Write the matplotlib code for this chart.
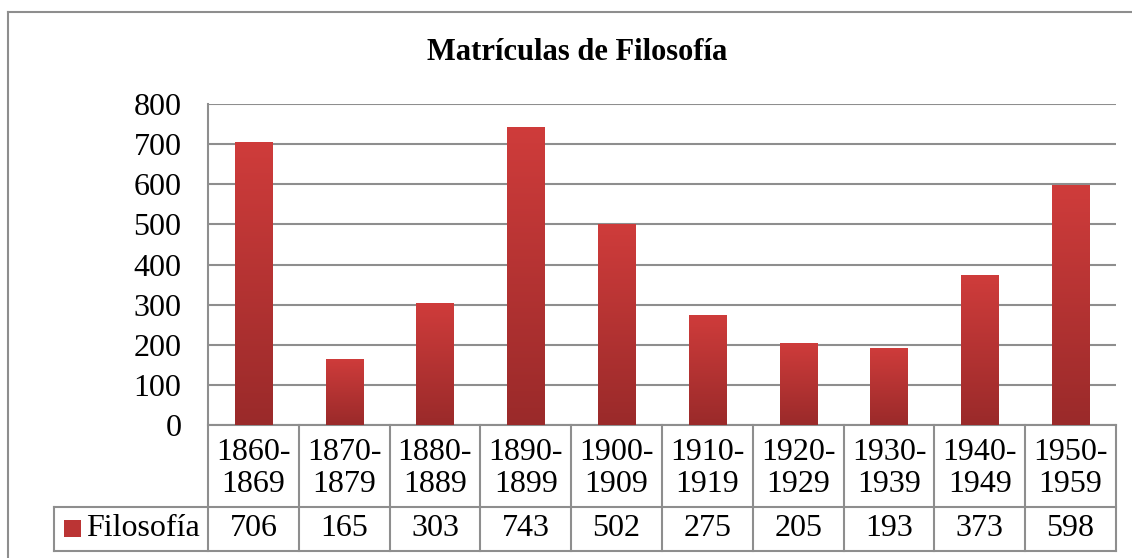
import numpy as np
import matplotlib.pyplot as plt
from matplotlib.colors import LinearSegmentedColormap
from matplotlib.lines import Line2D

decades_top = ["1860-", "1870-", "1880-", "1890-", "1900-", "1910-", "1920-", "1930-", "1940-", "1950-"]
decades_bot = ["1869", "1879", "1889", "1899", "1909", "1919", "1929", "1939", "1949", "1959"]
values = [706, 165, 303, 743, 502, 275, 205, 193, 373, 598]
series_name = "Filosofía"
title = "Matrículas de Filosofía"

plt.rcParams['font.family'] = ['Liberation Serif', 'DejaVu Serif']

W, H = 1132, 558
fig = plt.figure(figsize=(W / 100, H / 100), dpi=100)

def fx(px):
    return px / W

def fy(py):
    return 1 - py / H

grey = "#8e8e8e"

# outer chart frame (only left and top visible)
fig.add_artist(Line2D([fx(8), fx(8)], [fy(12), fy(560)], color=grey, lw=1.5))
fig.add_artist(Line2D([fx(8), fx(1134)], [fy(12), fy(12)], color=grey, lw=1.5))

left, right, top, bottom = 208, 1116, 104, 425
ax = fig.add_axes([fx(left), fy(bottom), fx(right - left), fy(top) - fy(bottom)])
for s in ax.spines.values():
    s.set_visible(False)
ax.set_xticks([])
ax.set_yticks(range(0, 801, 100))
ax.tick_params(axis='y', length=0, pad=19, labelsize=23)
ax.yaxis.grid(True, color=grey, lw=1.5)
ax.set_axisbelow(True)

cmap = LinearSegmentedColormap.from_list("red", ["#9a2a2a", "#cf3c3b"])
grad = np.linspace(0, 1, 256).reshape(-1, 1)
x = np.arange(len(values))
bw = 0.41
bars = ax.bar(x, values, width=bw, color="none", zorder=3)
for b in bars:
    x0, y0 = b.get_x(), b.get_y()
    im = ax.imshow(grad, cmap=cmap, origin="lower", aspect="auto", zorder=3,
                   extent=[x0, x0 + b.get_width(), y0, y0 + b.get_height()])
    im.set_clip_path(b)
ax.set_xlim(-0.5, len(values) - 0.5)
ax.set_ylim(0, 800)

# data table below the axis
tr = ax.get_xaxis_transform()
axh = bottom - top
def ay(py):
    return -(py - bottom) / axh

y_hdr = ay(507)
y_val = ay(551)
x_leg = -0.5 - (left - 54) / ((right - left) / len(values))

kw = dict(color=grey, lw=1.5, transform=tr, clip_on=False)
ax.plot([-0.5, -0.5], [1, y_val], **kw)
ax.plot([-0.5, len(values) - 0.5], [0, 0], **kw)
ax.plot([x_leg, len(values) - 0.5], [y_hdr, y_hdr], **kw)
ax.plot([x_leg, len(values) - 0.5], [y_val, y_val], **kw)
ax.plot([x_leg, x_leg], [y_hdr, y_val], **kw)
for i in range(len(values)):
    ax.plot([i + 0.5, i + 0.5], [0, y_val], **kw)

fs = 23
for i in range(len(values)):
    ax.text(i, ay(453), decades_top[i], transform=tr, ha="center", va="center", fontsize=fs)
    ax.text(i, ay(484), decades_bot[i], transform=tr, ha="center", va="center", fontsize=fs)
    ax.text(i, ay(528), str(values[i]), transform=tr, ha="center", va="center", fontsize=fs)

# legend key in the table
fig.add_artist(plt.Rectangle((fx(64), fy(537)), fx(17), fy(520) - fy(537),
                             facecolor="#bb3434", edgecolor="none"))
fig.text(fx(86), fy(528), series_name, ha="left", va="center", fontsize=fs)

fig.text(fx(577), fy(52), title, ha="center", va="center", fontsize=22, fontweight="bold")

fig.savefig("out.png", dpi=100)
